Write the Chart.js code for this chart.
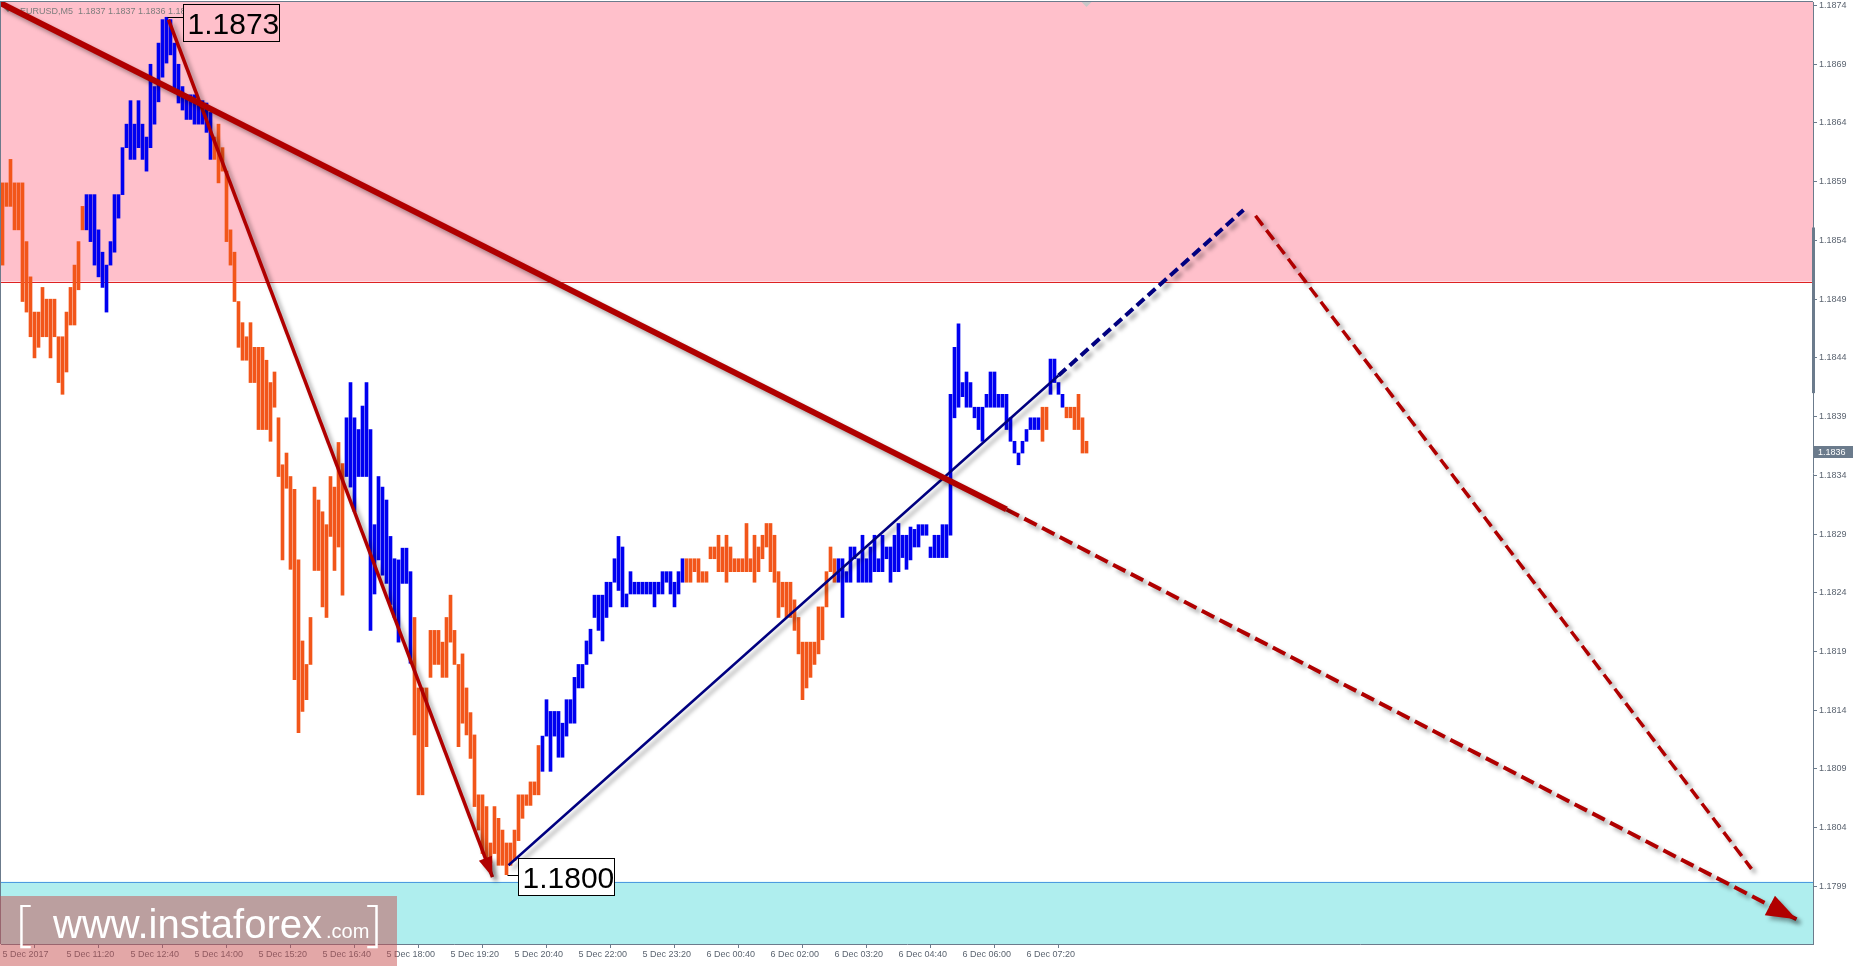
<!DOCTYPE html>
<html>
<head>
<meta charset="utf-8">
<script src="https://cdn.jsdelivr.net/npm/chart.js@4.4.1/dist/chart.umd.min.js"></script>
<style>
  html, body { margin: 0; padding: 0; background: #fff; }
  canvas { display: block; }
</style>
</head>
<body>
<canvas id="chart" width="1853" height="966"></canvas>
<script>
// EURUSD M5, one bar every 5 minutes from 5 Dec 2017 10:00
const highs = [
  1.18589, 1.18589, 1.18609, 1.18589, 1.18589, 1.18589, 1.18539, 1.18509, 1.18479, 1.18479,
  1.18500, 1.18490, 1.18490, 1.18490, 1.18458, 1.18458, 1.18479, 1.18500, 1.18519, 1.18539,
  1.18569, 1.18579, 1.18579, 1.18579, 1.18549, 1.18530, 1.18519, 1.18539, 1.18579, 1.18579,
  1.18619, 1.18639, 1.18659, 1.18639, 1.18659, 1.18639, 1.18628, 1.18690, 1.18671, 1.18708,
  1.18728, 1.18730, 1.18728, 1.18708, 1.18690, 1.18671, 1.18664, 1.18664, 1.18664, 1.18659,
  1.18659, 1.18657, 1.18649, 1.18628, 1.18639, 1.18619, 1.18599, 1.18549, 1.18530, 1.18488,
  1.18470, 1.18458, 1.18470, 1.18449, 1.18449, 1.18449, 1.18438, 1.18419, 1.18428, 1.18389,
  1.18349, 1.18359, 1.18339, 1.18328, 1.18268, 1.18199, 1.18179, 1.18219, 1.18330, 1.18319,
  1.18309, 1.18298, 1.18339, 1.18330, 1.18368, 1.18350, 1.18389, 1.18419, 1.18389, 1.18379,
  1.18399, 1.18419, 1.18379, 1.18298, 1.18339, 1.18330, 1.18319, 1.18288, 1.18269, 1.18268,
  1.18278, 1.18278, 1.18258, 1.18219, 1.18159, 1.18159, 1.18159, 1.18208, 1.18208, 1.18208,
  1.18198, 1.18219, 1.18238, 1.18208, 1.18179, 1.18188, 1.18159, 1.18138, 1.18119, 1.18068,
  1.18068, 1.18058, 1.18027, 1.18058, 1.18048, 1.18038, 1.18027, 1.18027, 1.18038, 1.18068,
  1.18068, 1.18068, 1.18079, 1.18079, 1.18110, 1.18118, 1.18149, 1.18139, 1.18139, 1.18139,
  1.18129, 1.18149, 1.18149, 1.18168, 1.18179, 1.18179, 1.18199, 1.18209, 1.18238, 1.18238,
  1.18238, 1.18249, 1.18249, 1.18269, 1.18288, 1.18279, 1.18239, 1.18258, 1.18249, 1.18249,
  1.18249, 1.18249, 1.18249, 1.18249, 1.18249, 1.18258, 1.18258, 1.18258, 1.18249, 1.18258,
  1.18269, 1.18269, 1.18269, 1.18269, 1.18269, 1.18258, 1.18258, 1.18279, 1.18279, 1.18289,
  1.18279, 1.18289, 1.18279, 1.18269, 1.18269, 1.18269, 1.18299, 1.18269, 1.18289, 1.18279,
  1.18289, 1.18299, 1.18299, 1.18289, 1.18258, 1.18249, 1.18249, 1.18249, 1.18234, 1.18219,
  1.18198, 1.18198, 1.18198, 1.18198, 1.18228, 1.18228, 1.18258, 1.18279, 1.18269, 1.18269,
  1.18269, 1.18258, 1.18279, 1.18279, 1.18269, 1.18289, 1.18269, 1.18279, 1.18289, 1.18269,
  1.18289, 1.18279, 1.18279, 1.18289, 1.18299, 1.18289, 1.18289, 1.18296, 1.18294, 1.18298,
  1.18298, 1.18298, 1.18279, 1.18289, 1.18289, 1.18298, 1.18298, 1.18409, 1.18449, 1.18469,
  1.18419, 1.18428, 1.18419, 1.18398, 1.18398, 1.18398, 1.18409, 1.18428, 1.18428, 1.18409,
  1.18409, 1.18409, 1.18389, 1.18369, 1.18359, 1.18369, 1.18379, 1.18389, 1.18389, 1.18389,
  1.18398, 1.18398, 1.18439, 1.18439, 1.18419, 1.18409, 1.18398, 1.18398, 1.18398, 1.18409,
  1.18389, 1.18369
];
const lows = [
  1.18519, 1.18569, 1.18569, 1.18549, 1.18549, 1.18488, 1.18479, 1.18458, 1.18440, 1.18449,
  1.18458, 1.18458, 1.18440, 1.18458, 1.18419, 1.18409, 1.18428, 1.18468, 1.18468, 1.18498,
  1.18549, 1.18549, 1.18539, 1.18519, 1.18509, 1.18500, 1.18479, 1.18519, 1.18530, 1.18559,
  1.18579, 1.18619, 1.18609, 1.18609, 1.18619, 1.18609, 1.18599, 1.18619, 1.18639, 1.18658,
  1.18679, 1.18691, 1.18698, 1.18668, 1.18657, 1.18651, 1.18643, 1.18643, 1.18639, 1.18639,
  1.18639, 1.18632, 1.18609, 1.18609, 1.18589, 1.18599, 1.18539, 1.18519, 1.18488, 1.18449,
  1.18438, 1.18438, 1.18419, 1.18419, 1.18379, 1.18379, 1.18379, 1.18369, 1.18398, 1.18339,
  1.18268, 1.18329, 1.18260, 1.18166, 1.18121, 1.18139, 1.18149, 1.18179, 1.18259, 1.18259,
  1.18228, 1.18219, 1.18288, 1.18259, 1.18279, 1.18238, 1.18339, 1.18330, 1.18309, 1.18339,
  1.18339, 1.18339, 1.18208, 1.18239, 1.18268, 1.18255, 1.18248, 1.18230, 1.18219, 1.18198,
  1.18248, 1.18248, 1.18180, 1.18119, 1.18068, 1.18068, 1.18109, 1.18168, 1.18179, 1.18179,
  1.18168, 1.18168, 1.18198, 1.18179, 1.18109, 1.18129, 1.18119, 1.18099, 1.18058, 1.18038,
  1.18018, 1.18010, 1.18010, 1.18018, 1.18008, 1.18008, 1.18000, 1.18008, 1.18012, 1.18029,
  1.18048, 1.18059, 1.18059, 1.18068, 1.18068, 1.18088, 1.18118, 1.18088, 1.18118, 1.18100,
  1.18100, 1.18118, 1.18129, 1.18129, 1.18159, 1.18159, 1.18179, 1.18188, 1.18219, 1.18208,
  1.18199, 1.18219, 1.18228, 1.18249, 1.18242, 1.18228, 1.18228, 1.18239, 1.18239, 1.18239,
  1.18239, 1.18239, 1.18239, 1.18228, 1.18239, 1.18239, 1.18249, 1.18239, 1.18228, 1.18239,
  1.18249, 1.18249, 1.18249, 1.18258, 1.18249, 1.18249, 1.18249, 1.18269, 1.18269, 1.18258,
  1.18258, 1.18249, 1.18258, 1.18258, 1.18258, 1.18258, 1.18258, 1.18258, 1.18249, 1.18258,
  1.18269, 1.18279, 1.18258, 1.18249, 1.18219, 1.18228, 1.18219, 1.18219, 1.18208, 1.18188,
  1.18149, 1.18159, 1.18168, 1.18179, 1.18188, 1.18200, 1.18228, 1.18258, 1.18249, 1.18249,
  1.18219, 1.18249, 1.18249, 1.18269, 1.18249, 1.18249, 1.18249, 1.18249, 1.18258, 1.18258,
  1.18258, 1.18269, 1.18249, 1.18258, 1.18258, 1.18270, 1.18260, 1.18268, 1.18279, 1.18279,
  1.18289, 1.18289, 1.18270, 1.18270, 1.18270, 1.18270, 1.18270, 1.18289, 1.18389, 1.18398,
  1.18407, 1.18398, 1.18398, 1.18389, 1.18379, 1.18369, 1.18398, 1.18398, 1.18398, 1.18398,
  1.18398, 1.18379, 1.18369, 1.18359, 1.18349, 1.18359, 1.18369, 1.18379, 1.18379, 1.18379,
  1.18369, 1.18379, 1.18409, 1.18419, 1.18409, 1.18398, 1.18389, 1.18389, 1.18379, 1.18379,
  1.18359, 1.18359
];
// rising waves (blue bars), first and last bar index
const risingWaves = [[21, 52], [86, 102], [135, 170], [209, 259], [262, 265]];

// one time label every 16 bars
const timeLabels = ["5 Dec 2017", "5 Dec 11:20", "5 Dec 12:40", "5 Dec 14:00", "5 Dec 15:20",
  "5 Dec 16:40", "5 Dec 18:00", "5 Dec 19:20", "5 Dec 20:40", "5 Dec 22:00", "5 Dec 23:20",
  "6 Dec 00:40", "6 Dec 02:00", "6 Dec 03:20", "6 Dec 04:40", "6 Dec 06:00", "6 Dec 07:20"];
const priceTicks = [1.1874, 1.1869, 1.1864, 1.1859, 1.1854, 1.1849, 1.1844, 1.1839,
  1.1834, 1.1829, 1.1824, 1.1819, 1.1814, 1.1809, 1.1804, 1.1799];

const resistanceZone = [1.18505, 1.18743];
const supportZone = [1.17941, 1.17994];
const lastPrice = 1.1836;
const headerText = "EURUSD,M5  1.1837 1.1837 1.1836 1.1836";

// wave lines as (bar index, price)
const bigTrend = [{x: -0.5, y: 1.18742}, {x: 251, y: 1.18311}];
const bigTrendNext = [{x: 251, y: 1.18311}, {x: 448.5, y: 1.17962}];
const fallWave = [{x: 41.5, y: 1.18728}, {x: 122.5, y: 1.17998}];
const riseWave = [{x: 126.5, y: 1.18008}, {x: 264, y: 1.18425}];
const riseWaveNext = [{x: 264, y: 1.18425}, {x: 310.25, y: 1.18566}];
const fallNext = [{x: 313.25, y: 1.18561}, {x: 437.25, y: 1.18005}];
const extremes = [
  {x: 41, y: 1.1873, text: "1.1873", dx: 16, dy: -13, fill: "#ffc0cb"},
  {x: 126, y: 1.1800, text: "1.1800", dx: 11, dy: -17, fill: "#ffffff"}
];

const FONT = "Liberation Sans";
const AXIS = "#6b7b8c";
Chart.defaults.font.family = FONT;
Chart.defaults.font.size = 9;

const bars = highs.map((h, i) => ({x: i, y: [lows[i], h]}));
const barColors = highs.map((h, i) =>
  risingWaves.some(([a, b]) => i >= a && i <= b) ? "#0000f0" : "#f2561a");

function lineSet(data, color, width, dash) {
  return {
    type: "line", data: data, borderColor: color, borderWidth: width,
    borderDash: dash || [], pointRadius: 0, fill: false, tension: 0,
    borderCapStyle: "butt", order: 1, shadow: true
  };
}

function noPadding(s) {
  s.paddingTop = 0; s.paddingBottom = 0; s.paddingLeft = 0; s.paddingRight = 0;
}

const zones = {
  id: "zones",
  beforeDatasetsDraw(chart) {
    const {ctx, chartArea: a, scales: {y}} = chart;
    ctx.save();
    const pinkBottom = y.getPixelForValue(resistanceZone[0]);
    ctx.fillStyle = "#ffc0cb";
    ctx.fillRect(a.left, a.top, a.right - a.left, pinkBottom - a.top);
    ctx.fillStyle = "#dd2222";
    ctx.fillRect(a.left, Math.round(pinkBottom), a.right - a.left, 1);
    const cyanTop = y.getPixelForValue(supportZone[1]);
    ctx.fillStyle = "#afeeee";
    ctx.fillRect(a.left, cyanTop, a.right - a.left, a.bottom - cyanTop);
    ctx.fillStyle = "#4d9be0";
    ctx.fillRect(a.left, Math.round(cyanTop), a.right - a.left, 1);
    // frame
    ctx.fillStyle = AXIS;
    ctx.fillRect(a.left - 1, a.top - 1, a.right - a.left + 1, 1);
    ctx.fillRect(a.left - 1, a.top - 1, 1, a.bottom - a.top + 1);
    // header
    ctx.fillStyle = "#7d7d7d";
    ctx.beginPath();
    ctx.moveTo(4, 8); ctx.lineTo(12, 8); ctx.lineTo(8, 12); ctx.closePath(); ctx.fill();
    ctx.font = "9px " + FONT;
    ctx.textBaseline = "alphabetic";
    ctx.fillText(headerText, 20, 14);
    ctx.restore();
  }
};

const shadows = {
  id: "shadows",
  beforeDatasetDraw(chart, args) {
    const ds = chart.data.datasets[args.index];
    if (!ds.shadow) return;
    const ctx = chart.ctx;
    ctx.save();
    ctx.shadowColor = "rgba(0,0,0,0.35)";
    ctx.shadowBlur = 4;
    ctx.shadowOffsetX = 4;
    ctx.shadowOffsetY = 4;
  },
  afterDatasetDraw(chart, args) {
    const ds = chart.data.datasets[args.index];
    if (ds.shadow) chart.ctx.restore();
  }
};

function arrowHead(ctx, x, y, pts, len, half, color) {
  const p0 = {x: x.getPixelForValue(pts[0].x), y: y.getPixelForValue(pts[0].y)};
  const p1 = {x: x.getPixelForValue(pts[1].x), y: y.getPixelForValue(pts[1].y)};
  const ang = Math.atan2(p1.y - p0.y, p1.x - p0.x);
  const bx = p1.x - Math.cos(ang) * len, by = p1.y - Math.sin(ang) * len;
  ctx.beginPath();
  ctx.moveTo(p1.x, p1.y);
  ctx.lineTo(bx - Math.sin(ang) * half, by + Math.cos(ang) * half);
  ctx.lineTo(bx + Math.sin(ang) * half, by - Math.cos(ang) * half);
  ctx.closePath();
  ctx.fillStyle = color;
  ctx.fill();
}

const marks = {
  id: "marks",
  afterDatasetsDraw(chart) {
    const {ctx, scales: {x, y}} = chart;
    ctx.save();
    ctx.shadowColor = "rgba(0,0,0,0.35)";
    ctx.shadowBlur = 4;
    ctx.shadowOffsetX = 4;
    ctx.shadowOffsetY = 4;
    arrowHead(ctx, x, y, fallWave, 20, 7, "#b00000");
    arrowHead(ctx, x, y, bigTrendNext, 30, 11, "#b00000");
    ctx.restore();

    ctx.save();
    extremes.forEach(e => {
      const px = x.getPixelForValue(e.x), py = y.getPixelForValue(e.y);
      const bx = Math.round(px + e.dx) + 0.5, by = Math.round(py + e.dy) + 0.5;
      ctx.strokeStyle = "#000";
      ctx.lineWidth = 1;
      ctx.beginPath();
      ctx.moveTo(Math.round(px) + 0.5, Math.round(py) + 0.5);
      ctx.lineTo(bx, Math.round(py) + 0.5);
      ctx.stroke();
      ctx.fillStyle = e.fill;
      ctx.fillRect(bx, by, 96, 37);
      ctx.strokeRect(bx, by, 96, 37);
      ctx.fillStyle = "#000";
      ctx.font = "30px " + FONT;
      ctx.textBaseline = "alphabetic";
      ctx.fillText(e.text, bx + 4, by + 29);
    });
    ctx.restore();
  },
  afterDraw(chart) {
    const {ctx, chartArea: a, scales: {x, y}} = chart;
    ctx.save();
    // current price on the axis
    const py = Math.round(y.getPixelForValue(lastPrice));
    ctx.fillStyle = "#6b7b8c";
    ctx.fillRect(a.right + 1, py - 6, 40, 12);
    ctx.fillStyle = "#fff";
    ctx.font = "9px " + FONT;
    ctx.textBaseline = "middle";
    ctx.fillText(lastPrice.toFixed(4), a.right + 5, py + 0.5);
    // axis scroll mark
    const t = y.getPixelForValue(1.18551), b = y.getPixelForValue(1.18410);
    ctx.fillStyle = "#6b7b8c";
    ctx.fillRect(a.right - 1, t, 3, b - t);
    // chart shift marker
    const sx = x.getPixelForValue(highs.length - 1);
    ctx.fillStyle = "#c8c8c8";
    ctx.beginPath();
    ctx.moveTo(sx - 5, a.top); ctx.lineTo(sx + 5, a.top); ctx.lineTo(sx, a.top + 5);
    ctx.closePath(); ctx.fill();
    // watermark
    ctx.fillStyle = "rgba(200,80,80,0.5)";
    ctx.fillRect(0, 896, 397, 70);
    ctx.fillStyle = "#fff";
    ctx.textBaseline = "alphabetic";
    ctx.font = "300 50px 'Open Sans'";
    ctx.fillText("[", 16, 941);
    ctx.fillText("]", 366, 941);
    ctx.font = "40px " + FONT;
    ctx.fillText("www.instaforex", 53, 938);
    ctx.font = "20px " + FONT;
    ctx.fillText(".com", 326, 938);
    ctx.restore();
  }
};

new Chart(document.getElementById("chart"), {
  type: "bar",
  data: {
    datasets: [
      lineSet(bigTrend, "#b00000", 6),
      lineSet(bigTrendNext, "#b00000", 4, [14, 6]),
      lineSet(fallWave, "#b00000", 3.5),
      lineSet(riseWave, "#000080", 2.5),
      lineSet(riseWaveNext, "#000080", 4, [10, 5]),
      lineSet(fallNext, "#b00000", 3.5, [12, 6]),
      {type: "bar", data: bars, backgroundColor: barColors, barThickness: 3,
        borderWidth: 0, order: 10}
    ]
  },
  options: {
    responsive: false,
    animation: false,
    events: [],
    layout: {padding: {top: 2, left: 1, right: 0, bottom: 0}},
    plugins: {legend: {display: false}, tooltip: {enabled: false}},
    scales: {
      x: {
        type: "linear", offset: false, min: -0.375, max: 452.625,
        afterBuildTicks: s => { s.ticks = timeLabels.map((l, k) => ({value: k * 16})); },
        afterFit: s => { s.height = 22; noPadding(s); },
        ticks: {
          autoSkip: false, maxRotation: 0, align: "start", padding: 1, color: "#5b6470",
          callback: v => timeLabels[Math.round(v / 16)]
        },
        grid: {drawOnChartArea: false, drawTicks: true, tickLength: 4, color: AXIS},
        border: {display: true, color: AXIS, width: 1}
      },
      y: {
        position: "right", min: supportZone[0], max: resistanceZone[1],
        afterBuildTicks: s => { s.ticks = priceTicks.map(v => ({value: v})); },
        afterFit: s => { s.width = 40; noPadding(s); },
        ticks: {padding: 2, color: "#5b6470", callback: v => v.toFixed(4)},
        grid: {drawOnChartArea: false, drawTicks: true, tickLength: 4, color: AXIS},
        border: {display: true, color: AXIS, width: 1}
      }
    }
  },
  plugins: [zones, shadows, marks]
});
</script>
</body>
</html>
